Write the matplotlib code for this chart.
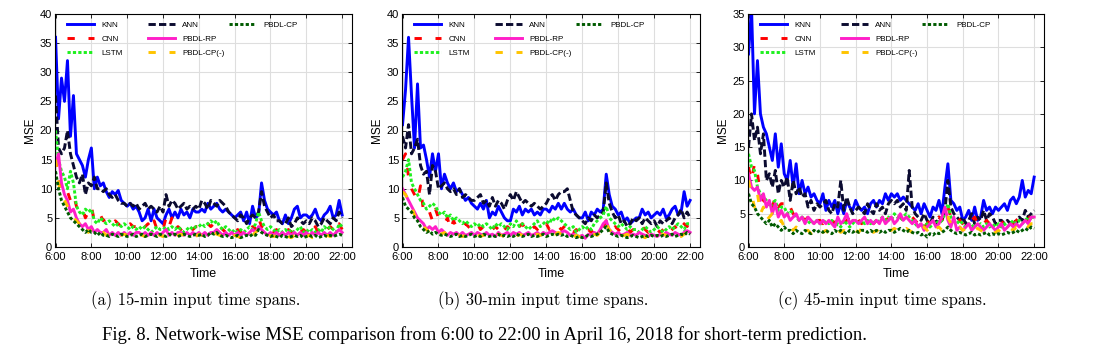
import numpy as np
import matplotlib
matplotlib.use('Agg')
import matplotlib.pyplot as plt
from matplotlib.legend import Legend

plt.rcParams['font.family'] = ['Liberation Sans', 'DejaVu Sans']

# time axis: 6:00 .. 22:00, one value every 10 minutes
hours = np.linspace(6, 22, 97)
tick_hours = [6, 8, 10, 12, 14, 16, 18, 20, 22]
tick_labels = ['6:00', '8:00', '10:00', '12:00', '14:00', '16:00', '18:00', '20:00', '22:00']
names = ['KNN', 'ANN', 'CNN', 'LSTM', 'PBDL-RP', 'PBDL-CP(-)', 'PBDL-CP']
captions = ['(a) 15-min input time spans.', '(b) 30-min input time spans.',
            '(c) 45-min input time spans.']

# ---- (a) 15-min ----
knn_a = [36, 22, 29, 25, 32, 19, 26, 16, 15, 14, 12, 15,
         17, 10, 12, 10.5, 11, 9.5, 8.5, 9.5, 9, 9.7, 8, 7.5,
         7, 7.5, 6.5, 7, 6, 4.5, 5, 6.5, 4.5, 6.5, 5, 4.5,
         4, 5.5, 6.5, 5, 6, 5, 6.5, 5.5, 6, 5, 6.5, 6,
         6, 6.5, 6, 7.5, 6.5, 7, 7.5, 6.5, 6, 6.5, 6, 5.5,
         5, 5.5, 6, 4.5, 6, 4, 7, 5, 5.5, 11, 8, 6.5,
         6, 5.5, 6, 4.5, 4, 5.5, 4, 5, 6.5, 7, 5, 5.5,
         5.5, 5, 5.5, 6.5, 5, 4.5, 5.5, 6, 7, 5, 5.5, 8, 5.5]
ann_a = [26, 17, 16, 17, 20, 16, 14, 12, 11, 12.5, 9, 11,
         10.5, 12, 10, 10, 9.5, 10, 9, 8.5, 9, 8, 7.5, 7.5,
         7, 7.5, 7, 7.5, 6.5, 7, 7.5, 6.5, 7, 6.5, 6, 7,
         6, 9, 7, 8, 7.5, 6.5, 7, 7.5, 6.5, 7, 6.5, 7,
         6.5, 8, 7.5, 6.5, 8, 7.5, 7, 8, 7.5, 7, 6, 5.5,
         5, 4.5, 5.5, 5, 4, 5, 5.5, 5, 6, 9.5, 7, 6,
         5, 5.5, 4.5, 4.5, 4, 4, 5, 3.5, 4, 5, 4.5, 4,
         4.5, 4, 5, 4.5, 3.5, 4, 5, 4.5, 4, 5, 4.5, 6, 5]
cnn_a = [15, 12, 10, 9, 9.5, 8, 9, 7, 6, 6.5, 5, 6,
         7, 4.5, 5, 5.5, 4.5, 5, 4.5, 4, 4.5, 4, 3.5, 4,
         3.5, 4, 3.5, 3.5, 4, 3, 3.5, 4, 3, 4.5, 3, 3.5,
         3, 5, 3.5, 5, 3, 3.5, 3, 3.5, 3, 3.5, 3, 3.5,
         3.5, 3, 3.5, 4, 3.5, 4, 4.5, 3.5, 3, 2.5, 3, 2.5,
         2.5, 3, 2.5, 3, 3.5, 3, 3.5, 3, 5, 3.5, 3, 2.5,
         3, 2.5, 3, 2.5, 3, 2.5, 3, 2.5, 3, 3.5, 2.5, 3,
         2.5, 3, 2.5, 3.5, 2.5, 3, 2.5, 3, 3.5, 3, 2.5, 4, 3]
lstm_a = [20, 15, 13, 12, 10, 13, 11, 7, 6, 5.5, 6.5, 6,
          6.5, 4.5, 4, 5, 4.5, 4, 4.5, 4, 3.5, 4, 3.5, 4,
          3.5, 3, 3.5, 3, 3.5, 3, 3.5, 3, 2.5, 3, 3.5, 3,
          3, 3.5, 3, 3.5, 3, 3.5, 3, 2.5, 3, 3.5, 3, 3.5,
          3.5, 4, 3.5, 4, 4.5, 4, 4.5, 3.5, 3, 3.5, 3, 2.5,
          3, 2.5, 3, 2.5, 3, 3.5, 3, 4, 6, 4.5, 3.5, 3,
          3.5, 3, 2.5, 3, 2.5, 3, 2.5, 3, 2.5, 3, 3.5, 2.5,
          3, 2.5, 3, 2.5, 3, 2.5, 3.5, 3, 3.5, 3, 2.5, 4, 3.5]
rp_a = [14, 16, 11, 9, 8, 6, 6.5, 5, 4, 3.5, 4, 3,
        3.5, 2.5, 3, 2.5, 2.5, 3, 2, 2.5, 2, 2.5, 2, 2.5,
        2, 2.5, 2, 2.5, 2.5, 2, 2.5, 2, 2.5, 2, 2.5, 2,
        2.5, 3, 2, 2.5, 2, 2.5, 2.5, 2, 2.5, 2, 2.5, 2,
        2.5, 2, 2.5, 2, 2.5, 2.5, 3, 2.5, 2, 2.5, 2, 2.5,
        2, 2.5, 2, 2.5, 2, 2.5, 3, 2.5, 3.5, 3, 2.5, 2,
        2.5, 2, 2.5, 2, 2.5, 2, 2.5, 2, 2.5, 2, 2.5, 2,
        2.5, 2, 2.5, 2, 2.5, 2, 2.5, 2, 2.5, 2, 2.5, 3, 2.5]
cpm_a = [15, 11, 9, 8, 7, 6, 5, 4.5, 4, 3, 3.5, 2.5,
         3, 2.5, 2.5, 2.2, 2.5, 2, 2.2, 2, 1.8, 2.2, 2, 2.2,
         2, 2.2, 1.8, 2, 2.2, 2, 1.8, 2.2, 2, 1.8, 2.2, 2,
         1.8, 2.2, 2, 2.2, 1.8, 2, 2.2, 2, 1.8, 2.2, 2, 1.8,
         2.2, 2, 2.2, 2, 2.2, 2.5, 2.2, 2, 1.8, 2, 1.6, 1.8,
         2, 1.8, 1.6, 1.8, 2, 2.2, 2, 2.5, 3, 2.5, 2, 1.8,
         2, 1.8, 2, 1.6, 1.8, 2, 1.8, 1.6, 2, 1.8, 1.6, 2,
         1.8, 2, 1.6, 1.8, 2, 1.8, 1.6, 2, 1.8, 2, 1.8, 2.2, 2]
cp_a = [13, 10, 8, 7, 6, 5, 4.5, 4, 3.5, 3, 2.5, 3,
        2.5, 2.5, 2, 2.5, 2, 2, 1.8, 2.2, 2, 1.8, 2.2, 2,
        1.8, 2, 2.2, 1.8, 2, 2.2, 1.8, 2, 2.2, 2, 1.8, 2.2,
        2, 1.8, 2.2, 2, 2.2, 1.8, 2, 2.2, 2, 1.8, 2, 2.2,
        2, 2.2, 1.8, 2, 2.5, 2.2, 2.5, 2, 1.8, 2, 1.8, 1.6,
        1.8, 2, 1.6, 1.8, 2, 1.8, 2.2, 2, 3, 2.5, 2.2, 2,
        1.8, 2, 1.8, 1.6, 2, 1.8, 1.6, 1.8, 2, 1.8, 2, 1.6,
        1.8, 2, 1.8, 2, 1.6, 1.8, 2, 1.8, 2, 1.8, 2, 2.2, 2]

# ---- (b) 30-min ----
knn_b = [21, 27, 36, 26, 17, 28, 17, 17.5, 15, 12, 16, 13,
         16, 10, 12.5, 11, 10, 11, 9.5, 10, 9, 8, 8.5, 7.5,
         7, 6.5, 7.5, 6.5, 8, 5, 6, 5.5, 7, 6, 5, 4.5,
         4.5, 6.5, 6, 7, 5.5, 6.5, 6, 6.5, 5.5, 6, 5.5, 6.5,
         6.5, 6, 7, 6.5, 7.5, 6.5, 7.5, 6.5, 6, 6.5, 5.5, 5,
         5, 6, 4.5, 6, 5.5, 6.5, 6, 6.5, 12.5, 9, 7, 6.5,
         5.5, 6, 4.5, 5, 4, 4.5, 5, 5, 6.5, 5.5, 6, 5,
         5.5, 6, 5.5, 6.5, 5, 5.5, 6.5, 7, 5.5, 6, 9.5, 7, 8]
ann_b = [19, 17, 21, 16, 17, 18.5, 14, 12.5, 13, 9, 14, 13,
         10, 10.5, 11, 10, 9.5, 10, 9, 10, 8.5, 9, 8.5, 8,
         8, 8.5, 9, 7.5, 8, 7, 8.5, 7, 8, 7.5, 6.5, 8,
         9, 8, 9.5, 8.5, 7.5, 8, 7.5, 7, 7.5, 7, 6.5, 7,
         7.5, 8.5, 9, 8, 9, 9.5, 9.5, 10, 8, 6, 5.5, 5,
         4.5, 4, 5, 4.5, 5.5, 5, 5.5, 6, 11, 7.5, 6, 5,
         5.5, 4, 4.5, 3.5, 4, 5, 4.5, 5, 4, 5, 4.5, 4,
         4.5, 3.5, 4.5, 4, 4.5, 5, 4, 5, 5.5, 6.5, 5, 6, 5]
cnn_b = [15, 16, 12, 10, 9, 8, 10.5, 6, 5.5, 6, 4.5, 6.5,
         5, 4.5, 4, 5, 3, 4.5, 3.5, 4, 3.5, 4, 3.5, 3,
         3.5, 4, 3, 3.5, 3, 3.5, 3, 3.5, 3, 4, 3, 3.5,
         3, 3.5, 3, 3.5, 4, 3, 3.5, 3, 3.5, 3, 4, 3.5,
         4, 3, 3.5, 4, 3.5, 3, 3.5, 4, 3, 2.5, 3, 2.5,
         3, 2.5, 3, 2.5, 3, 3.5, 3, 3.5, 4.5, 3.5, 3, 3.5,
         3, 2.5, 3, 3.5, 2.5, 3, 2.5, 3, 3.5, 3, 2.5, 3,
         2.5, 3, 2.5, 3, 3.5, 2.5, 3, 3.5, 2.5, 3, 4, 3.5, 4.5]
lstm_b = [12, 13, 15, 11, 10, 9, 8, 7.5, 6.5, 7, 7.5, 7,
          6, 5.5, 6, 5, 5.5, 4.5, 5, 4.5, 4, 4.5, 4, 3.5,
          4, 3.5, 4, 3.5, 4, 3.5, 3, 4, 3.5, 4, 3.5, 3,
          4, 3.5, 4.5, 3.5, 4, 3.5, 3, 3.5, 4, 4.5, 3.5, 4,
          4.5, 4, 5, 4.5, 5, 4.5, 4, 3.5, 3, 3.5, 2.5, 3,
          3.5, 3, 3.5, 3, 4, 4.5, 5, 5.5, 7, 5, 4.5, 4,
          3.5, 4, 3.5, 3, 3.5, 3, 3, 2.5, 3, 3.5, 3, 2.5,
          3, 3.5, 3, 2.5, 3, 3.5, 3, 3.5, 4, 3.5, 3, 4, 4]
rp_b = [10, 9, 8, 7, 6, 5, 4.5, 4, 3, 3.5, 3, 3.5,
        2.5, 3, 2.5, 2, 2.5, 2.2, 2.5, 2, 2.5, 2, 2.2, 2.5,
        2, 2.5, 2.2, 2, 2.5, 2, 2.2, 1.8, 2.5, 2, 2.2, 2.5,
        2, 2.5, 2.2, 2.5, 2, 2.2, 2.5, 2, 2.2, 2.5, 2, 2.5,
        2.2, 2.5, 2.8, 2.5, 2.2, 2.5, 2.8, 2.5, 2, 2.2, 2, 1.8,
        2, 1.5, 2.2, 2, 2.5, 2.2, 3, 4, 4.5, 3, 2.5, 2.2,
        2.5, 2, 2.2, 2.5, 2, 2.2, 2, 2.5, 2.2, 2, 1.8, 2.2,
        2, 1.8, 2.2, 2, 2.5, 2.2, 2, 2.5, 2.2, 2, 2.5, 2.8, 2.5]
cpm_b = [9.5, 9, 8, 7, 5.5, 4.5, 4, 3.5, 3, 2.5, 3, 2.5,
         2.5, 2.2, 2.5, 2, 2.2, 2, 2.2, 2, 1.8, 2, 2.2, 2,
         2, 2.2, 1.8, 2, 2.2, 2, 1.8, 2, 2.2, 2, 1.8, 2,
         2.2, 2, 1.8, 2.2, 2, 2.2, 2, 1.8, 2, 2.2, 2, 2.2,
         2, 2.2, 2.5, 2.2, 2.5, 2.2, 2.5, 2.2, 2, 1.8, 2, 1.8,
         1.8, 2, 1.8, 2, 2.2, 2, 2.5, 3.5, 4, 3, 2.5, 2,
         2, 1.8, 2, 2.2, 1.8, 2, 1.8, 2, 1.8, 1.6, 2, 1.8,
         2, 1.8, 2, 2.2, 2, 1.8, 2, 2.2, 2, 1.8, 2.2, 2.5, 2.2]
cp_b = [8.5, 7, 6.5, 6, 5, 4.5, 3.5, 3, 2.5, 2.8, 2.2, 2.5,
        2.2, 2, 2.2, 2, 1.8, 2, 2.2, 1.8, 2, 1.8, 2, 2.2,
        1.8, 2, 1.8, 2.2, 2, 1.8, 2, 1.8, 2.2, 1.8, 2, 1.8,
        2, 1.8, 2.2, 2, 1.8, 2, 2.2, 1.8, 2, 1.8, 2, 2.2,
        1.8, 2, 2.2, 2, 2.2, 2, 2.2, 1.8, 2, 1.8, 1.6, 1.8,
        1.6, 1.8, 2, 1.8, 2, 2.2, 2.5, 3, 3.5, 2.5, 2.2, 2,
        1.8, 2, 1.8, 1.6, 1.8, 2, 1.8, 1.6, 1.8, 2, 1.8, 2,
        1.8, 2, 1.8, 2, 1.8, 2, 2.2, 1.8, 2, 2.2, 2, 2.5, 2.2]

# ---- (c) 45-min ----
knn_c = [29, 36, 20, 28, 20, 18, 17, 15, 13, 17, 12, 15.5,
         11, 10, 13, 9, 12.5, 8, 10, 8, 9, 7.5, 8, 7,
         6.5, 8, 5.5, 7, 6, 7, 5, 6.5, 5, 7, 6, 5.5,
         7, 6, 5.5, 6, 5, 6.5, 7, 6, 7, 6.5, 8, 7,
         8, 7.5, 8, 7, 7.5, 7, 6.5, 6, 5.5, 6.5, 5, 6.5,
         5.5, 4.5, 6, 5.5, 7, 5, 9, 12.5, 7, 6.5, 5.5, 6,
         4, 4.5, 5.5, 4, 6, 4, 4.5, 7, 5.5, 6, 5, 6,
         5.5, 6, 6.5, 5.5, 7, 7.5, 6.5, 7.5, 10, 7.5, 8.5, 8, 10.5]
ann_c = [15, 20, 16, 18, 14, 17, 10, 11, 9, 11.5, 8, 10,
         9, 10.5, 7, 10, 8, 9, 7.5, 8, 6, 7, 5.5, 6.5,
         6, 6.5, 7, 5.5, 5, 6.5, 6, 10, 5.5, 7.5, 6, 5,
         5.5, 6, 5.5, 5, 6.5, 5.5, 5, 6.5, 5.5, 6, 5, 6.5,
         7, 6.5, 7, 6, 6.5, 5.5, 11.5, 6, 5, 4.5, 4, 5,
         4, 3.5, 4.5, 3.5, 4.5, 4, 5.5, 10, 6, 5, 4.5, 4,
         4.5, 3.5, 4, 5, 3.5, 4.5, 4, 5.5, 4, 5, 4.5, 3.5,
         4, 4, 3.5, 4, 3.5, 4, 3.5, 4.5, 4, 5.5, 4.5, 5, 5.5]
cnn_c = [12, 10, 12.5, 11, 8, 7, 6.5, 7, 6, 7.5, 6, 6.5,
         6.5, 5.5, 6, 5, 4.5, 5, 4.5, 4, 4.5, 4, 4.5, 4,
         4, 3.5, 4, 4.5, 4, 3.5, 4.5, 4, 3.5, 4, 4.5, 4,
         4.5, 4, 3.5, 4, 4.5, 4, 3.5, 4, 4.5, 4, 4.5, 4,
         4.5, 4, 5, 4.5, 4, 4.5, 5, 4.5, 4, 3.5, 4, 3,
         3.5, 4, 3.5, 4, 4.5, 4, 5.5, 6, 4.5, 5, 4.5, 4,
         3.5, 3, 3.5, 4, 4.5, 3.5, 4, 3.5, 4, 3.5, 4, 3.5,
         3, 3.5, 4, 3.5, 4, 3.5, 4, 4.5, 4, 4.5, 4, 5, 4.5]
lstm_c = [14, 12, 11.5, 9, 8, 7.5, 7, 6, 6.5, 7, 5.5, 6,
          6, 5, 5.5, 5, 4.5, 4, 4.5, 4, 3.5, 4, 3.5, 4,
          3.5, 3.5, 4, 3.5, 4, 3, 3.5, 3, 4, 3.5, 3, 3.5,
          4, 3.5, 4, 3.5, 4, 3.5, 4, 3.5, 4, 4.5, 4, 4.5,
          4, 5, 4.5, 4, 4.5, 5, 4.5, 4, 3.5, 3, 3.5, 3,
          3.5, 3, 3.5, 4, 3.5, 4, 5, 6.5, 4.5, 4, 3.5, 4,
          3.5, 3, 3.5, 3, 3.5, 3, 3.5, 3, 3.5, 3, 3.5, 3,
          3.5, 3, 3.5, 3, 3.5, 4, 3.5, 4, 3.5, 4, 4.5, 4, 5]
rp_c = [11, 9, 8.5, 9, 7, 8, 6, 7, 5, 6.5, 4.5, 5.5,
        4.5, 5, 4, 4.5, 5, 4, 4.5, 3.5, 4.5, 4, 3.5, 4,
        3.5, 4, 3.5, 4, 3.5, 3, 4.5, 3.5, 4, 5, 3.5, 4,
        4, 3.5, 4, 4.5, 3.5, 4, 3.5, 4, 3.5, 4.5, 3.5, 4,
        4.5, 3.5, 4, 5, 4, 4.5, 4, 3.5, 4, 3, 3.5, 2.5,
        3, 3.5, 4, 3, 3.5, 4.5, 6, 4, 3, 4.5, 2.5, 3,
        2.5, 3, 3.5, 2.5, 3, 3.5, 3, 2.5, 3, 3.5, 3, 2.5,
        3, 3.5, 2.5, 3, 3.5, 3, 3.5, 3, 3.5, 4, 3.5, 4.5, 4.5]
cpm_c = [10, 8, 6, 8, 5, 6, 4, 4.5, 5, 4, 3.5, 4,
         3, 3.5, 3, 2.5, 3, 2.5, 3, 2.5, 2.5, 2, 2.5, 2.2,
         2.5, 2.2, 2.5, 2, 2.5, 2.2, 2.5, 2.2, 2.5, 2.2, 2.5, 2.2,
         2.5, 2.2, 2.8, 2.5, 2.2, 2.5, 2.2, 2.5, 2.2, 2.5, 2.8, 2.5,
         2.5, 2.8, 2.5, 3, 2.5, 2.8, 2.5, 2.2, 2.5, 2.8, 2.5, 3,
         2.5, 3, 3.5, 2.8, 3, 2.5, 3.5, 4.5, 3.5, 3, 2.5, 3,
         2.5, 2.8, 2.5, 2.2, 2.5, 2.8, 2.5, 2.2, 2.5, 2.2, 2, 2.2,
         2.5, 2.2, 2, 2.5, 2.8, 2.5, 3, 2.8, 3, 3.5, 3, 3.5, 3.5]
cp_c = [8, 6.5, 6, 5, 4.5, 4, 3.5, 4, 3, 3.5, 3, 2.5,
        3, 2.5, 2.5, 2, 2.5, 2.2, 2, 2.5, 2.2, 2, 2.5, 2.2,
        2.5, 2.2, 2.5, 2.2, 2, 2.5, 2.2, 2.5, 2.2, 2, 2.5, 2.2,
        2.5, 2.2, 2.5, 2.5, 2.2, 2.5, 2.2, 2.5, 2.2, 2.5, 2.2, 2.5,
        2.5, 2.2, 2.5, 2.8, 2.5, 2.2, 2.5, 2.2, 2, 2.2, 1.8, 2,
        1.5, 2, 1.8, 2.2, 2, 2.2, 2.5, 3, 2.5, 2.2, 2, 2.2,
        2, 1.8, 2, 2.2, 1.8, 2, 1.8, 2, 2.2, 1.8, 2, 1.8,
        2, 1.8, 2, 2.2, 2, 2.2, 2.5, 2.2, 2.5, 2.8, 2.5, 3, 2.8]

panels = [
    [knn_a, ann_a, cnn_a, lstm_a, rp_a, cpm_a, cp_a],
    [knn_b, ann_b, cnn_b, lstm_b, rp_b, cpm_b, cp_b],
    [knn_c, ann_c, cnn_c, lstm_c, rp_c, cpm_c, cp_c],
]
ymax = [40, 40, 35]

# line styles: colour, dash pattern (None = solid)
styles = {
    'KNN': ('#0000ff', None),
    'ANN': ('#0b0b30', (2.5, 1.1)),
    'CNN': ('#ff0000', (2.5, 4.7)),
    'LSTM': ('#1ef01e', (1.1, 0.75)),
    'PBDL-RP': ('#ff1fc8', None),
    'PBDL-CP(-)': ('#ffc400', (2.5, 4.7)),
    'PBDL-CP': ('#005a00', (1.1, 0.75)),
}

W, H = 1094, 356
fig = plt.figure(figsize=(W / 100, H / 100), dpi=100)
lefts = [55, 402, 748]
widths = [297, 298, 296]
top, bottom = 14, 247

for k in range(3):
    ax = fig.add_axes([lefts[k] / W, 1 - bottom / H, widths[k] / W, (bottom - top) / H])
    lines = {}
    for name, vals in zip(names, panels[k]):
        col, dash = styles[name]
        ln, = ax.plot(hours, vals, color=col, lw=2.1, label=name)
        if dash is not None:
            ln.set_dashes(dash)
        lines[name] = ln
    ax.set_xlim(5.97, 22.55)
    ax.set_ylim(0, ymax[k])
    ax.set_xticks(tick_hours)
    ax.set_xticklabels(tick_labels)
    ax.set_yticks(np.arange(0, ymax[k] + 1, 5))
    ax.grid(True, color='#dedede', lw=0.8)
    ax.set_axisbelow(True)
    ax.tick_params(direction='in', top=True, right=True, length=3, width=0.6,
                   labelsize=8)
    ax.tick_params(axis='x', pad=3.5)
    ax.tick_params(axis='y', pad=2)
    for sp in ax.spines.values():
        sp.set_linewidth(0.8)
    ax.set_xlabel('Time', fontsize=9, labelpad=4.5)
    ax.set_ylabel('MSE', fontsize=8.5, labelpad=3)

    # MATLAB-like legend with equal-width columns -> one legend per column
    cols = [['KNN', 'CNN', 'LSTM'], ['ANN', 'PBDL-RP', 'PBDL-CP(-)'], ['PBDL-CP']]
    xs = [12, 93, 174]
    for xc, group in zip(xs, cols):
        leg = Legend(ax, [lines[n] for n in group], group, loc='upper left',
                     bbox_to_anchor=(xc / widths[k], 1 - 7 / (bottom - top)),
                     frameon=False, borderpad=0, borderaxespad=0,
                     handlelength=3.4, handletextpad=0.85, labelspacing=0.8,
                     fontsize=5.8)
        ax.add_artist(leg)

    cx = [196, 543, 882][k]
    fig.text(cx / W, 1 - 301 / H, captions[k], ha='center', va='center',
             family='cmr10', fontsize=12)

fig.text(102 / W, 1 - 335 / H,
         'Fig. 8. Network-wise MSE comparison from 6:00 to 22:00 in April 16, 2018 '
         'for short-term prediction.',
         ha='left', va='center', family='Liberation Serif', fontsize=13.4)

fig.savefig('out.png', dpi=100)
